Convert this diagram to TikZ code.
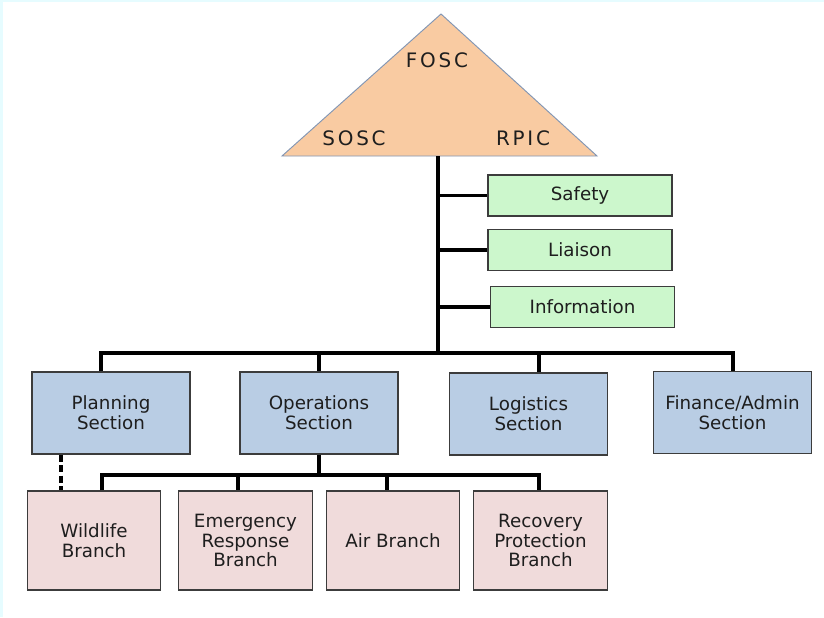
\documentclass[tikz,border=0pt]{standalone}
\usepackage{fontspec}
\setmainfont{DejaVu Sans}
\newfontfamily\trifont[LetterSpace=14]{DejaVu Sans}
\usetikzlibrary{positioning}
\definecolor{PeachTri}{RGB}{249,203,162}
\definecolor{TriEdge}{RGB}{130,150,180}
\definecolor{StaffGreen}{RGB}{204,247,204}
\definecolor{SectBlue}{RGB}{185,205,228}
\definecolor{BranchPink}{RGB}{240,219,219}
\definecolor{BoxEdge}{RGB}{60,60,60}
\definecolor{TextGray}{RGB}{30,30,30}
\definecolor{EdgeCyan}{RGB}{230,252,255}
\tikzset{
  box/.style={draw=BoxEdge,line width=1.1pt,align=center,text=TextGray,
    font=\fontsize{15.6}{17}\selectfont,inner sep=0pt},
  staffbox/.style={box,fill=StaffGreen,minimum width=5.52cm,minimum height=1.23cm},
  sectbox/.style={box,fill=SectBlue,minimum width=4.74cm,minimum height=2.46cm},
  branchbox/.style={box,fill=BranchPink,minimum width=4.0cm,minimum height=2.97cm},
  trilabel/.style={text=TextGray,font=\trifont\fontsize{17}{19}\selectfont},
  link/.style={line width=2.6pt,black},
  dashlink/.style={line width=3pt,black,dash pattern=on 6pt off 3pt}
}
\begin{document}
\begin{tikzpicture}[x=0.03cm,y=-0.03cm]
\useasboundingbox(0,0)rectangle(824,617);
\fill[white](0,0)rectangle(824,617);
\fill[EdgeCyan](0,0)rectangle(3,617);
\fill[EdgeCyan](0,0)rectangle(824,2);
%
\coordinate(apex)at(441,14);
\coordinate(triL)at(282,156);
\coordinate(triR)at(597,156);
\draw[TriEdge,fill=PeachTri,line width=0.8pt](apex)--(triR)--(triL)--cycle;
\node[trilabel](fosc)at(437,60){FOSC};
\node[trilabel](sosc)at(354,138){SOSC};
\node[trilabel](rpic)at(523,138){RPIC};
%
\node[staffbox](safety)at(580,195.5){Safety};
\node[staffbox](liaison)at(580,250){Liaison};
\node[staffbox](info)at(582.5,307){Information};
%
\node[sectbox](plan)at(111,413){Planning\\Section};
\node[sectbox](ops)at(319,413){Operations\\Section};
\node[sectbox](logi)at(528.5,414){Logistics\\Section};
\node[sectbox](fin)at(732.5,412.5){Finance/Admin\\Section};
%
\node[branchbox](wild)at(94,540.5){Wildlife\\Branch};
\node[branchbox](emer)at(245.5,540.5){Emergency\\Response\\Branch};
\node[branchbox](air)at(393,540.5){Air Branch};
\node[branchbox](recov)at(540.5,540.5){Recovery\\Protection\\Branch};
%
\coordinate(trunktop)at(438,156);
\coordinate(trunkbot)at(438,353);
\coordinate(jplan)at(101,353);
\coordinate(jops)at(319,353);
\coordinate(jlogi)at(539,353);
\coordinate(jfin)at(733,353);
\draw[link](trunktop)--(trunkbot);
\draw[link](trunktop|-safety.west)--(safety.west);
\draw[link](trunktop|-liaison.west)--(liaison.west);
\draw[link](trunktop|-info.west)--(info.west);
\draw[link](jplan|-plan.north)--(jplan)--(jfin)--(jfin|-fin.north);
\draw[link](jops)--(jops|-ops.north);
\draw[link](jlogi)--(jlogi|-logi.north);
%
\coordinate(jwild)at(102,475);
\coordinate(jemer)at(238,475);
\coordinate(jair)at(387,475);
\coordinate(jrecov)at(539,475);
\draw[link](ops.south)--(ops.south|-jwild);
\draw[link](jwild|-wild.north)--(jwild)--(jrecov)--(jrecov|-recov.north);
\draw[link](jemer)--(jemer|-emer.north);
\draw[link](jair)--(jair|-air.north);
\coordinate(jdash)at(61,470);
\draw[dashlink](jdash|-plan.south)--(jdash|-wild.north);
\end{tikzpicture}
\end{document}
